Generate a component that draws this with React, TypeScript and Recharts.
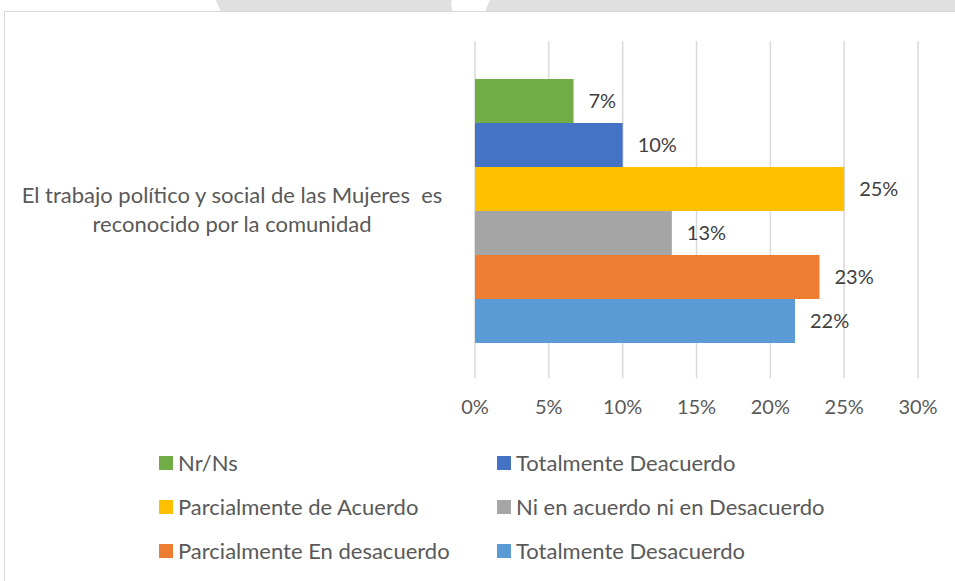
import React from 'react';
import { BarChart, Bar, XAxis, YAxis, CartesianGrid, Legend, LabelList } from 'recharts';

const categories = ['El trabajo político y social de las Mujeres  es reconocido por la comunidad'];

const seriesNames = [
  'Nr/Ns',
  'Totalmente Deacuerdo',
  'Parcialmente de Acuerdo',
  'Ni en acuerdo ni en Desacuerdo',
  'Parcialmente En desacuerdo',
  'Totalmente Desacuerdo',
];

const seriesValues = [6.67, 10, 25, 13.33, 23.33, 21.67];

const xTicks = [0, 5, 10, 15, 20, 25, 30];

const COLORS = ['#70AD47', '#4472C4', '#FFC000', '#A5A5A5', '#ED7D31', '#5B9BD5'];

const FONT = 'Lato, "Open Sans", sans-serif';

// one row per category, one key per series
const data = categories.map((name) => {
  const row: Record<string, string | number> = { name };
  seriesNames.forEach((s, i) => {
    row[s] = seriesValues[i];
  });
  return row;
});

const wrap = (text: string, max: number) => {
  const words = text.split(' ');
  const lines: string[] = [];
  let cur = '';
  words.forEach((w) => {
    const next = cur === '' ? w : cur + ' ' + w;
    if (next.length > max && cur !== '') {
      lines.push(cur);
      cur = w;
    } else {
      cur = next;
    }
  });
  if (cur) lines.push(cur);
  return lines;
};

const CategoryTick = (props: any) => {
  const { x, y, payload } = props;
  const lines = wrap(payload.value, 48);
  return (
    <text x={x - 235} y={y} textAnchor="middle" fill="#595959" fontSize={22} fontFamily={FONT} style={{ whiteSpace: 'pre' }}>
      {lines.map((l, i) => (
        <tspan key={i} x={x - 235} y={y - 7 + i * 29}>
          {l}
        </tspan>
      ))}
    </text>
  );
};

const LegendGrid = () => (
  <div
    style={{
      display: 'grid',
      gridTemplateColumns: '338px 330px',
      rowGap: 20,
      fontFamily: FONT,
      fontSize: 22,
      lineHeight: '24px',
      color: '#595959',
    }}
  >
    {seriesNames.map((s, i) => (
      <div key={s} style={{ display: 'flex', alignItems: 'center', height: 24 }}>
        <span style={{ width: 14, height: 14, background: COLORS[i], marginRight: 5, display: 'inline-block', flex: 'none' }} />
        <span style={{ whiteSpace: 'nowrap' }}>{s}</span>
      </div>
    ))}
  </div>
);

export default function App() {
  return (
    <div style={{ position: 'absolute', left: 0, top: 0, width: 955, height: 581, background: '#fff', overflow: 'hidden' }}>
      {/* page decoration behind the chart frame */}
      <svg width={955} height={12} style={{ position: 'absolute', left: 0, top: 0 }}>
        <path d="M216 0 L452 0 Q450 6 453 12 L221 12 Q218 6 216 0 Z" fill="#e0e0e0" />
        <path d="M490 0 L955 0 L955 12 L485 12 Q487 6 490 0 Z" fill="#e0e0e0" />
      </svg>
      <div
        style={{
          position: 'absolute',
          left: 4,
          top: 11,
          width: 1000,
          height: 600,
          borderLeft: '1px solid #d9d9d9',
          borderTop: '1px solid #d9d9d9',
        }}
      />
      <div style={{ position: 'absolute', left: 0, top: 0 }}>
        <BarChart
          width={955}
          height={581}
          data={data}
          layout="vertical"
          margin={{ top: 41, right: 37, bottom: 173, left: 0 }}
          barCategoryGap={38}
          barGap={0}
        >
          <CartesianGrid horizontal={false} stroke="#d9d9d9" strokeWidth={1.5} />
          <XAxis
            type="number"
            domain={[0, 30]}
            ticks={xTicks}
            tickFormatter={(v) => `${v}%`}
            axisLine={false}
            tickLine={false}
            height={30}
            tickMargin={16}
            tick={{ fill: '#595959', fontSize: 20, fontFamily: FONT }}
          />
          <YAxis
            type="category"
            dataKey="name"
            width={475}
            axisLine={false}
            tickLine={false}
            tick={<CategoryTick />}
          />
          {seriesNames.map((s, i) => (
            <Bar key={s} dataKey={s} fill={COLORS[i]} isAnimationActive={false}>
              <LabelList
                dataKey={s}
                position="right"
                offset={15}
                formatter={(v: any) => `${Math.round(Number(v))}%`}
                style={{ fill: '#404040', fontSize: 20, fontFamily: FONT }}
              />
            </Bar>
          ))}
          <Legend
            verticalAlign="middle"
            align="center"
            content={<LegendGrid />}
            wrapperStyle={{ top: 451, left: 159, width: 700, height: 120 }}
          />
        </BarChart>
      </div>
    </div>
  );
}
